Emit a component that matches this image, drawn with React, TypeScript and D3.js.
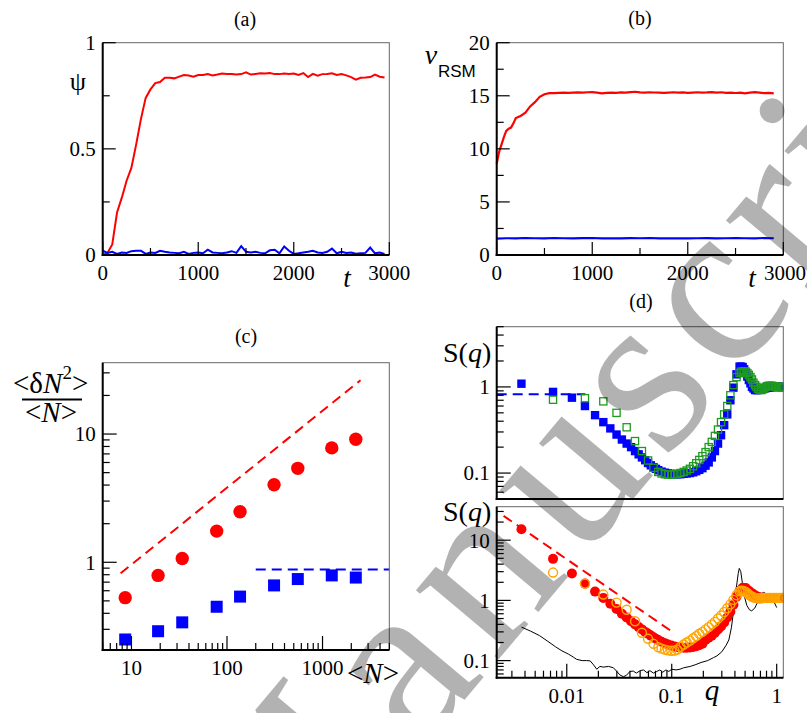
import * as d3 from "d3";

const SERIF = "'Liberation Serif', 'Times New Roman', Times, Tinos, 'Noto Serif', 'DejaVu Serif', FreeSerif, 'Nimbus Roman', serif";
const SANS = "'Liberation Sans', Arial, sans-serif";

// ---- (a) order parameter psi(t)
const timeA = [0, 50, 100, 150, 200, 250, 300, 350, 400, 450, 500, 550, 600, 650, 700, 750, 800, 850, 900, 950,
  1000, 1050, 1100, 1150, 1200, 1250, 1300, 1350, 1400, 1450, 1500, 1550, 1600, 1650, 1700, 1750, 1800, 1850, 1900, 1950,
  2000, 2050, 2100, 2150, 2200, 2250, 2300, 2350, 2400, 2450, 2500, 2550, 2600, 2650, 2700, 2750, 2800, 2850, 2900, 2950];
const psiRed = [0.0, 0.01, 0.05, 0.2, 0.27, 0.35, 0.41, 0.52, 0.64, 0.74, 0.78, 0.81, 0.815, 0.835, 0.835, 0.832, 0.84, 0.848, 0.845, 0.84,
  0.848, 0.848, 0.852, 0.846, 0.85, 0.855, 0.853, 0.852, 0.85, 0.852, 0.86, 0.85, 0.853, 0.856, 0.855, 0.857, 0.852, 0.852, 0.855, 0.853,
  0.855, 0.848, 0.857, 0.838, 0.853, 0.845, 0.852, 0.853, 0.856, 0.848, 0.852, 0.846, 0.838, 0.826, 0.835, 0.836, 0.838, 0.85, 0.84, 0.836];
const psiBlue = [0.02, 0.01, 0.015, 0.005, 0.012, 0.01, 0.018, 0.02, 0.02, 0.005, 0.012, 0.01, 0.02, 0.015, 0.012, 0.01, 0.008, 0.015, 0.005, 0.01,
  0.012, 0.008, 0.025, 0.012, 0.01, 0.008, 0.012, 0.018, 0.01, 0.042, 0.015, 0.012, 0.015, 0.01, 0.008, 0.022, 0.025, 0.008, 0.04, 0.02,
  0.005, 0.008, 0.012, 0.015, 0.02, 0.012, 0.01, 0.015, 0.03, 0.008, 0.015, 0.01, 0.012, 0.006, 0.008, 0.01, 0.035, 0.008, 0.012, 0.005];

// ---- (b) v_RSM(t)
const timeBRed = [0, 25, 50, 75, 100, 125, 150, 175, 200, 250, 300, 350, 400, 450, 500, 550, 600, 650, 700, 750, 800, 850, 900, 950,
  1000, 1050, 1100, 1150, 1200, 1250, 1300, 1350, 1400, 1450, 1500, 1550, 1600, 1650, 1700, 1750, 1800, 1850, 1900, 1950,
  2000, 2050, 2100, 2150, 2200, 2250, 2300, 2350, 2400, 2450, 2500, 2550, 2600, 2650, 2700, 2750, 2800, 2850, 2900];
const vRed = [8.6, 9.7, 10.4, 11.1, 11.7, 11.9, 12.0, 12.4, 12.9, 13.1, 13.4, 14.0, 14.4, 14.9, 15.15, 15.25, 15.25, 15.28, 15.3, 15.27, 15.3, 15.32, 15.3, 15.33,
  15.35, 15.3, 15.22, 15.28, 15.3, 15.27, 15.32, 15.3, 15.35, 15.38, 15.32, 15.3, 15.33, 15.31, 15.3, 15.28, 15.3, 15.33, 15.3, 15.32,
  15.27, 15.3, 15.33, 15.3, 15.32, 15.35, 15.3, 15.33, 15.28, 15.3, 15.26, 15.3, 15.22, 15.3, 15.35, 15.3, 15.25, 15.27, 15.22];
const timeBBlue = [0, 100, 200, 300, 400, 500, 600, 700, 800, 900, 1000, 1100, 1200, 1300, 1400, 1500, 1600, 1700, 1800, 1900,
  2000, 2100, 2200, 2300, 2400, 2500, 2600, 2700, 2800, 2900];
const vBlue = [1.55, 1.58, 1.57, 1.6, 1.58, 1.56, 1.6, 1.58, 1.57, 1.59, 1.6, 1.57, 1.58, 1.56, 1.59, 1.58, 1.6, 1.57, 1.58, 1.57,
  1.56, 1.58, 1.59, 1.57, 1.58, 1.6, 1.58, 1.57, 1.6, 1.58];

// ---- (c) number fluctuations
const meanN = [8.6, 19, 34, 78, 137, 311, 551, 1250, 2230];
const flucRed = [0.53, 0.79, 1.07, 1.75, 2.48, 4.02, 5.4, 7.8, 9.1];
const flucBlue = [0.25, 0.29, 0.34, 0.45, 0.54, 0.66, 0.74, 0.79, 0.76];
const guideRed = [[7.7, 0.82], [2500, 26.3]];
const guideBlue = [[200, 0.88], [5000, 0.88]];

// ---- (d) structure factors
const qFine = [0.0037, 0.0074, 0.0112, 0.0149, 0.0186, 0.0223, 0.026, 0.0298, 0.0335, 0.0372, 0.041, 0.0447, 0.0484, 0.052, 0.0558,
  0.0595, 0.0632, 0.067, 0.0707, 0.0744, 0.08, 0.086, 0.092, 0.099, 0.106, 0.113, 0.121, 0.13, 0.139, 0.149, 0.16, 0.171, 0.183,
  0.196, 0.21, 0.225, 0.241, 0.258, 0.276, 0.295, 0.316, 0.338, 0.362, 0.387, 0.414, 0.443, 0.474, 0.507, 0.543, 0.581, 0.622,
  0.665, 0.712, 0.762, 0.815, 0.872, 0.933, 1.0, 1.07, 1.13];
const qCoarse = [0.0074, 0.0149, 0.0223, 0.0298, 0.0372, 0.0447, 0.052, 0.0595, 0.067, 0.0744, 0.08, 0.086, 0.092, 0.099, 0.106,
  0.113, 0.121, 0.13, 0.139, 0.149, 0.16, 0.171, 0.183, 0.196, 0.21, 0.225, 0.241, 0.258, 0.276, 0.295, 0.316, 0.338, 0.362,
  0.387, 0.414, 0.443, 0.474, 0.507, 0.543, 0.581, 0.622, 0.665, 0.712, 0.762, 0.815, 0.872, 0.933, 1.0, 1.07, 1.13];
const qTail = [0.458, 0.49, 0.525, 0.562, 0.6, 0.642, 0.688, 0.737, 0.788, 0.843, 0.902, 0.966, 1.035, 1.1, 1.145];
const sBlue = [1.09, 0.875, 0.75, 0.6, 0.47, 0.39, 0.33, 0.28, 0.245, 0.22, 0.2, 0.18, 0.165, 0.152, 0.141, 0.131, 0.123, 0.117, 0.112, 0.108,
  0.104, 0.101, 0.099, 0.098, 0.097, 0.097, 0.097, 0.098, 0.099, 0.1, 0.102, 0.105, 0.109, 0.114, 0.122, 0.133, 0.152, 0.18, 0.22, 0.275,
  0.36, 0.48, 0.7, 0.98, 1.4, 1.72, 1.7, 1.45, 1.2, 1.0, 0.92, 0.92, 0.94, 0.96, 0.98, 0.99, 1.0, 1.0, 1.0, 1.0];
const sBlueTail = [1.72, 1.6, 1.32, 1.1, 0.96, 0.92, 0.93, 0.95, 0.97, 0.99, 1.0, 1.0, 1.0, 1.0, 1.0];
const sGreen = [0.71, 0.74, 0.68, 0.5, 0.34, 0.235, 0.18, 0.14, 0.115, 0.103, 0.099, 0.097, 0.096, 0.096, 0.097,
  0.098, 0.1, 0.103, 0.107, 0.112, 0.12, 0.13, 0.142, 0.157, 0.175, 0.2, 0.23, 0.27, 0.32, 0.39, 0.48, 0.6, 0.8,
  1.05, 1.3, 1.45, 1.5, 1.5, 1.38, 1.22, 1.05, 0.95, 0.92, 0.97, 1.02, 1.03, 1.02, 1.0, 1.0, 0.99];
const sGreenTail = [1.5, 1.52, 1.45, 1.3, 1.12, 1.0, 0.93, 0.94, 1.0, 1.03, 1.03, 1.01, 1.0, 1.0, 0.99];
const sRed = [15.2, 4.9, 2.8, 1.9, 1.4, 1.1, 0.88, 0.72, 0.6, 0.52, 0.45, 0.4, 0.36, 0.33, 0.3, 0.28, 0.26, 0.245, 0.23, 0.22,
  0.205, 0.195, 0.185, 0.178, 0.172, 0.168, 0.165, 0.163, 0.163, 0.165, 0.168, 0.173, 0.18, 0.19, 0.22, 0.24, 0.26, 0.29, 0.33, 0.37,
  0.43, 0.52, 0.65, 0.85, 1.15, 1.45, 1.62, 1.6, 1.45, 1.32, 1.22, 1.15, 1.12, 1.1, 1.1, 1.1, 1.1, 1.1, 1.1, 1.1];
const sOrange = [2.9, 1.9, 1.25, 0.92, 0.7, 0.45, 0.29, 0.23, 0.19, 0.167, 0.158, 0.152, 0.148, 0.146, 0.147,
  0.152, 0.17, 0.185, 0.2, 0.215, 0.235, 0.255, 0.28, 0.3, 0.33, 0.36, 0.4, 0.44, 0.5, 0.56, 0.64, 0.74, 0.86,
  1.02, 1.22, 1.42, 1.45, 1.38, 1.25, 1.15, 1.1, 1.08, 1.08, 1.1, 1.1, 1.1, 1.1, 1.1, 1.1, 1.1];
const sOrangeTail = [1.45, 1.42, 1.32, 1.2, 1.13, 1.09, 1.08, 1.09, 1.1, 1.1, 1.1, 1.1, 1.1, 1.1, 1.1];
const qBlack = [0.0037, 0.0045, 0.0055, 0.0065, 0.0078, 0.009, 0.0104, 0.0115, 0.0124, 0.014, 0.0155, 0.0167, 0.018, 0.0193, 0.0207,
  0.0223, 0.025, 0.0278, 0.03, 0.032, 0.0346, 0.037, 0.04, 0.043, 0.046, 0.05, 0.054, 0.058, 0.062, 0.067, 0.072, 0.077, 0.082,
  0.088, 0.094, 0.1, 0.11, 0.12, 0.13, 0.15, 0.17, 0.19, 0.22, 0.25, 0.27, 0.3, 0.33, 0.35, 0.37, 0.39, 0.41, 0.43, 0.44, 0.455,
  0.47, 0.49, 0.52, 0.55, 0.578, 0.62, 0.67, 0.72, 0.75, 0.8, 0.87, 0.93, 1.0];
const sBlack = [0.36, 0.31, 0.26, 0.213, 0.17, 0.145, 0.128, 0.115, 0.105, 0.1, 0.1, 0.099, 0.085, 0.072, 0.08,
  0.078, 0.08, 0.076, 0.066, 0.058, 0.054, 0.057, 0.066, 0.067, 0.062, 0.068, 0.07, 0.063, 0.068, 0.062, 0.066, 0.07, 0.064,
  0.07, 0.066, 0.072, 0.07, 0.072, 0.076, 0.08, 0.086, 0.093, 0.1, 0.112, 0.12, 0.14, 0.18, 0.22, 0.35, 0.7, 1.5, 2.8, 3.4, 3.0,
  2.0, 1.2, 0.82, 0.7, 0.67, 0.75, 1.0, 1.3, 1.36, 1.28, 1.2, 1.0, 0.76];
const plateauTop = [[0.00215, 0.82], [0.015, 0.82]];
const powerBottom = [[0.0025, 25.4], [0.1035, 0.293]];

// watermark letters and their slot widths (em)
const stampLetters = ["M", "a", "n", "u", "s", "c", "r", "i", "p", "t"];
const stampAdvance = [0.889, 0.444, 0.5, 0.5, 0.389, 0.444, 0.333, 0.278, 0.5, 0.278];

const isDecade = (v: number) => Math.abs(Math.log10(v) - Math.round(Math.log10(v))) < 1e-6;

function Frame({ x0, x1, y0, y1 }: { x0: number; x1: number; y0: number; y1: number }) {
  return (
    <g>
      <rect x={x0} y={y0} width={x1 - x0} height={y1 - y0} fill="none" stroke="#666" strokeWidth={1} />
      <line x1={x0} x2={x0} y1={y0} y2={y1 + 1} stroke="#000" strokeWidth={2} />
      <line x1={x0 - 1} x2={x1} y1={y1} y2={y1} stroke="#000" strokeWidth={2} />
    </g>
  );
}

function YLinear({ y, x0, major, minor }: any) {
  return (
    <g>
      {minor.map((v: number) => (
        <line key={"m" + v} x1={x0} x2={x0 + 7} y1={y(v)} y2={y(v)} stroke="#000" strokeWidth={1.2} />
      ))}
      {major.map((v: number) => (
        <g key={v}>
          <line x1={x0} x2={x0 + 13} y1={y(v)} y2={y(v)} stroke="#000" strokeWidth={1.2} />
          <text x={x0 - 7} y={y(v)} dy="0.35em" textAnchor="end" fontFamily={SERIF} fontSize={21}>{v}</text>
        </g>
      ))}
    </g>
  );
}

function XLinear({ x, y0, major, minor }: any) {
  return (
    <g>
      {minor.map((v: number) => (
        <line key={"m" + v} x1={x(v)} x2={x(v)} y1={y0} y2={y0 - 7} stroke="#000" strokeWidth={1.2} />
      ))}
      {major.map((v: number) => (
        <g key={v}>
          <line x1={x(v)} x2={x(v)} y1={y0} y2={y0 - 13} stroke="#000" strokeWidth={1.2} />
          <text x={x(v)} y={y0 + 25} textAnchor="middle" fontFamily={SERIF} fontSize={21}>{v}</text>
        </g>
      ))}
    </g>
  );
}

function YLog({ y, x0, labels }: any) {
  return (
    <g>
      {y.ticks().map((v: number) => {
        const big = isDecade(v);
        return <line key={v} x1={x0} x2={x0 + (big ? 14 : 7)} y1={y(v)} y2={y(v)} stroke="#000" strokeWidth={1.2} />;
      })}
      {labels.map((v: number) => (
        <text key={"l" + v} x={x0 - 7} y={y(v)} dy="0.35em" textAnchor="end" fontFamily={SERIF} fontSize={21}>{v}</text>
      ))}
    </g>
  );
}

function XLog({ x, y0, labels }: any) {
  return (
    <g>
      {x.ticks().map((v: number) => {
        const big = isDecade(v);
        return <line key={v} x1={x(v)} x2={x(v)} y1={y0} y2={y0 - (big ? 14 : 7)} stroke="#000" strokeWidth={1.2} />;
      })}
      {labels.map((v: number) => (
        <text key={"l" + v} x={x(v)} y={y0 + 25} textAnchor="middle" fontFamily={SERIF} fontSize={21}>{v}</text>
      ))}
    </g>
  );
}

export default function App() {
  // panel boxes
  const A = { x0: 102.7, x1: 389.3, y0: 42.7, y1: 255 };
  const B = { x0: 496.7, x1: 783.3, y0: 42.7, y1: 255 };
  const C = { x0: 102.7, x1: 389.3, y0: 362.7, y1: 650 };
  const D1 = { x0: 496.7, x1: 783.3, y0: 326.7, y1: 499 };
  const D2 = { x0: 496.7, x1: 783.3, y0: 506.7, y1: 677.7 };

  const xa = d3.scaleLinear().domain([0, 3000]).range([A.x0, A.x1]);
  const ya = d3.scaleLinear().domain([0, 1]).range([A.y1, A.y0]);
  const xb = d3.scaleLinear().domain([0, 3000]).range([B.x0, B.x1]);
  const yb = d3.scaleLinear().domain([0, 20]).range([B.y1, B.y0]);
  const xc = d3.scaleLog().domain([5, 5000]).range([C.x0, C.x1]);
  const yc = d3.scaleLog().domain([0.207, 36]).range([C.y1, C.y0]);
  const xd = d3.scaleLog().domain([0.00215, 1.156]).range([D1.x0, D1.x1]);
  const yd1 = d3.scaleLog().domain([0.05, 5]).range([D1.y1, D1.y0]);
  const yd2 = d3.scaleLog().domain([0.052, 36]).range([D2.y1, D2.y0]);

  const lineA = d3.line<number>().x((_, i) => xa(timeA[i])).y((v) => ya(v));
  const lineBR = d3.line<number>().x((_, i) => xb(timeBRed[i])).y((v) => yb(v));
  const lineBB = d3.line<number>().x((_, i) => xb(timeBBlue[i])).y((v) => yb(v));
  const lineC = d3.line<number[]>().x((d) => xc(d[0])).y((d) => yc(d[1]));
  const lineD1 = d3.line<number[]>().x((d) => xd(d[0])).y((d) => yd1(d[1]));
  const lineD2 = d3.line<number[]>().x((d) => xd(d[0])).y((d) => yd2(d[1]));
  const blackPts = qBlack.map((q, i) => [q, sBlack[i]]);

  const blueSq = [...qFine.map((q, i) => [q, sBlue[i]]), ...qTail.map((q, i) => [q, sBlueTail[i]])];
  const greenSq = [...qCoarse.map((q, i) => [q, sGreen[i]]), ...qTail.map((q, i) => [q, sGreenTail[i]])];
  const redDots = qFine.map((q, i) => [q, sRed[i]]);
  const orangeDots = [...qCoarse.map((q, i) => [q, sOrange[i]]), ...qTail.map((q, i) => [q, sOrangeTail[i]])];

  // watermark: each glyph centred on its own slot along a rotated baseline
  const wmSlot = 265;
  const wmSize = 235;
  const wmCentres = stampAdvance.map((w, i) => (d3.sum(stampAdvance.slice(0, i)) + w / 2) * wmSlot);

  return (
    <svg width={807} height={713} style={{ position: "absolute", left: 0, top: 0, background: "#fff" }}>
      <defs>
        <clipPath id="clipA"><rect x={A.x0} y={A.y0} width={A.x1 - A.x0} height={A.y1 - A.y0} /></clipPath>
        <clipPath id="clipD1"><rect x={D1.x0} y={D1.y0} width={D1.x1 - D1.x0} height={D1.y1 - D1.y0} /></clipPath>
        <clipPath id="clipD2"><rect x={D2.x0} y={D2.y0} width={D2.x1 - D2.x0} height={D2.y1 - D2.y0} /></clipPath>
      </defs>
      <rect width={807} height={713} fill="#fff" />

      {/* (a) */}
      <text x={245} y={26} textAnchor="middle" fontFamily={SERIF} fontSize={20}>(a)</text>
      <g clipPath="url(#clipA)">
        <path d={lineA(psiRed) || ""} fill="none" stroke="#ff0000" strokeWidth={2} />
        <path d={lineA(psiBlue) || ""} fill="none" stroke="#0000ff" strokeWidth={2} />
      </g>
      <Frame {...A} />
      <YLinear y={ya} x0={A.x0} major={[0, 0.5, 1]} minor={[0.25, 0.75]} />
      <XLinear x={xa} y0={A.y1} major={[0, 1000, 2000, 3000]} minor={[500, 1500, 2500]} />
      <text x={78} y={90} textAnchor="middle" fontFamily={SERIF} fontSize={26}>ψ</text>
      <text x={347} y={287} textAnchor="middle" fontFamily={SERIF} fontStyle="italic" fontSize={27}>t</text>

      {/* (b) */}
      <text x={640} y={25} textAnchor="middle" fontFamily={SERIF} fontSize={20}>(b)</text>
      <path d={lineBR(vRed) || ""} fill="none" stroke="#ff0000" strokeWidth={2.2} />
      <path d={lineBB(vBlue) || ""} fill="none" stroke="#0000ff" strokeWidth={2.2} />
      <Frame {...B} />
      <YLinear y={yb} x0={B.x0} major={[0, 5, 10, 15, 20]} minor={[2.5, 7.5, 12.5, 17.5]} />
      <XLinear x={xb} y0={B.y1} major={[0, 1000, 2000]} minor={[500, 1500, 2500]} />
      <line x1={xb(3000)} x2={xb(3000)} y1={B.y1} y2={B.y1 - 13} stroke="#000" strokeWidth={1.2} />
      <text x={806} y={B.y1 + 25} textAnchor="end" fontFamily={SERIF} fontSize={21}>3000</text>
      <text x={431} y={64} textAnchor="middle" fontFamily={SERIF} fontStyle="italic" fontSize={28}>v</text>
      <text x={438} y={77} fontFamily={SANS} fontSize={17}>RSM</text>
      <text x={752} y={287} textAnchor="middle" fontFamily={SERIF} fontStyle="italic" fontSize={27}>t</text>

      {/* (c) */}
      <text x={246} y={343} textAnchor="middle" fontFamily={SERIF} fontSize={20}>(c)</text>
      <path d={lineC(guideRed) || ""} fill="none" stroke="#ff0000" strokeWidth={2} strokeDasharray="10,6" />
      <path d={lineC(guideBlue) || ""} fill="none" stroke="#0000ff" strokeWidth={2} strokeDasharray="10,6" />
      {meanN.map((n, i) => (
        <circle key={"cr" + i} cx={xc(n)} cy={yc(flucRed[i])} r={6.7} fill="#ff0000" />
      ))}
      {meanN.map((n, i) => (
        <rect key={"cb" + i} x={xc(n) - 6} y={yc(flucBlue[i]) - 6} width={12} height={12} fill="#0000ff" />
      ))}
      <Frame {...C} />
      <YLog y={yc} x0={C.x0} labels={[1, 10]} />
      <XLog x={xc} y0={C.y1} labels={[10, 100, 1000]} />
      <g fontFamily={SERIF} fontSize={29}>
        <text x={13} y={393}>&lt;δ<tspan fontStyle="italic">N</tspan><tspan dy={-14} fontSize={19}>2</tspan><tspan dy={14}>&gt;</tspan></text>
        <line x1={22} x2={82} y1={399.5} y2={399.5} stroke="#000" strokeWidth={2} />
        <text x={25} y={422}>&lt;<tspan fontStyle="italic">N</tspan>&gt;</text>
        <text x={347} y={683}>&lt;<tspan fontStyle="italic">N</tspan>&gt;</text>
      </g>

      {/* (d) */}
      <text x={641} y={308} textAnchor="middle" fontFamily={SERIF} fontSize={20}>(d)</text>
      <g clipPath="url(#clipD1)">
        <path d={lineD1(plateauTop) || ""} fill="none" stroke="#0000ff" strokeWidth={2} strokeDasharray="10,6" />
        {blueSq.map((d, i) => (
          <rect key={"b" + i} x={xd(d[0]) - 4.2} y={yd1(d[1]) - 4.2} width={8.4} height={8.4} fill="#0000ff" />
        ))}
        {greenSq.map((d, i) => (
          <rect key={"g" + i} x={xd(d[0]) - 3.6} y={yd1(d[1]) - 3.6} width={7.2} height={7.2} fill="none" stroke="#1e9b1e" strokeWidth={1.3} />
        ))}
      </g>
      <Frame {...D1} />
      <YLog y={yd1} x0={D1.x0} labels={[0.1, 1]} />
      <text x={443} y={362} fontFamily={SERIF} fontSize={28}>S(<tspan fontStyle="italic">q</tspan>)</text>

      <g clipPath="url(#clipD2)">
        <path d={lineD2(blackPts) || ""} fill="none" stroke="#000" strokeWidth={1} />
        {redDots.map((d, i) => (
          <circle key={"r" + i} cx={xd(d[0])} cy={yd2(d[1])} r={5} fill="#ff0000" />
        ))}
        {orangeDots.map((d, i) => (
          <circle key={"o" + i} cx={xd(d[0])} cy={yd2(d[1])} r={4.5} fill="none" stroke="#ffa500" strokeWidth={1.4} />
        ))}
        <path d={lineD2(powerBottom) || ""} fill="none" stroke="#ff0000" strokeWidth={2} strokeDasharray="10,6" />
      </g>
      <Frame {...D2} />
      <YLog y={yd2} x0={D2.x0} labels={[0.1, 1, 10]} />
      <XLog x={xd} y0={D2.y1} labels={[0.01, 0.1, 1]} />
      <text x={443} y={521} fontFamily={SERIF} fontSize={28}>S(<tspan fontStyle="italic">q</tspan>)</text>
      <text x={712} y={700} textAnchor="middle" fontFamily={SERIF} fontStyle="italic" fontSize={29}>q</text>

      {/* watermark */}
      <g transform="translate(263,940) rotate(-50)" fontFamily={SERIF} fontSize={wmSize} fill="#000" fillOpacity={0.3}>
        {stampLetters.map((ch, i) => (
          <text key={i} x={wmCentres[i]} y={0} textAnchor="middle">{ch}</text>
        ))}
      </g>
    </svg>
  );
}
